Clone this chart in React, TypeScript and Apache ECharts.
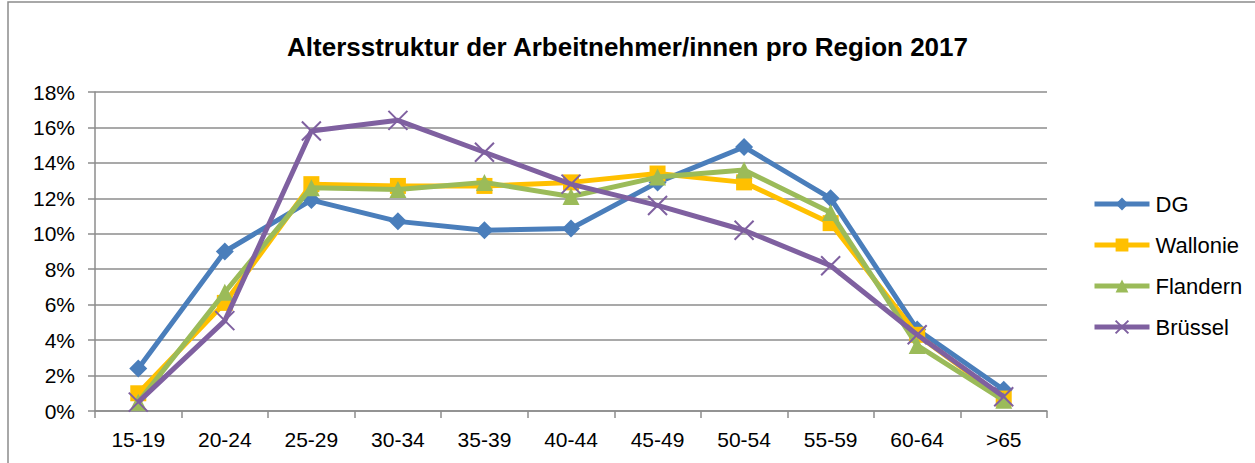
import React, { useEffect, useRef } from "react";
import * as echarts from "echarts";

const categories = ["15-19", "20-24", "25-29", "30-34", "35-39", "40-44", "45-49", "50-54", "55-59", "60-64", ">65"];
const dgValues = [2.4, 9.0, 11.9, 10.7, 10.2, 10.3, 12.9, 14.9, 12.0, 4.6, 1.2];
const wallonieValues = [1.0, 6.1, 12.8, 12.7, 12.7, 12.9, 13.4, 12.9, 10.6, 4.3, 0.7];
const flandernValues = [0.5, 6.7, 12.6, 12.5, 12.9, 12.1, 13.2, 13.6, 11.2, 3.7, 0.6];
const bruesselValues = [0.5, 5.1, 15.8, 16.4, 14.6, 12.8, 11.6, 10.2, 8.2, 4.3, 0.8];
const seriesNames = ["DG", "Wallonie", "Flandern", "Brüssel"];
const yTicks = { min: 0, max: 18, interval: 2 };
const titleText = "Altersstruktur der Arbeitnehmer/innen pro Region 2017";

const FONT = "'Liberation Sans', Arial, sans-serif";
const GRAY = "#8c8c8c";

export default function App() {
  const ref = useRef<HTMLDivElement>(null);
  useEffect(() => {
    if (!ref.current) return;
    const chart = echarts.init(ref.current, null, { renderer: "svg" });
    const colors = ["#4A7EBB", "#FFC000", "#9BBB59", "#7F60A0"];
    const symbols = ["diamond", "rect", "triangle", "path://M0,0L10,10M10,0L0,10"];
    const sizes = [18, 16, 17, 19];
    const data = [dgValues, wallonieValues, flandernValues, bruesselValues];
    chart.setOption({
      animation: false,
      textStyle: { fontFamily: FONT },
      title: {
        text: titleText,
        left: "center",
        top: 29,
        textStyle: { fontFamily: FONT, fontSize: 26, fontWeight: "bold", color: "#000" },
      },
      graphic: [
        {
          type: "rect",
          shape: { x: 8, y: 2, width: 1260, height: 480 },
          style: { fill: "none", stroke: GRAY, lineWidth: 1.5 },
          silent: true,
        },
      ],
      legend: {
        orient: "vertical",
        left: 1087,
        top: 188,
        itemWidth: 55,
        itemHeight: 16,
        itemGap: 19,
        lineStyle: { width: 5 },
        textStyle: { fontFamily: FONT, fontSize: 22, color: "#000", padding: [0, 0, 0, 1] },
        data: seriesNames,
      },
      grid: { left: 95, right: 208, top: 92, bottom: 52, containLabel: false },
      xAxis: {
        type: "category",
        data: categories,
        boundaryGap: true,
        axisLine: { lineStyle: { color: GRAY, width: 1.5 } },
        axisTick: { show: true, length: 7, alignWithLabel: false, lineStyle: { color: GRAY, width: 1.5 } },
        axisLabel: { color: "#000", fontSize: 21, fontFamily: FONT, margin: 18 },
        splitLine: { show: false },
      },
      yAxis: {
        type: "value",
        min: yTicks.min,
        max: yTicks.max,
        interval: yTicks.interval,
        axisLine: { show: true, lineStyle: { color: GRAY, width: 1.5 } },
        axisTick: { show: true, length: 7, lineStyle: { color: GRAY, width: 1.5 } },
        axisLabel: { color: "#000", fontSize: 21, fontFamily: FONT, margin: 20, formatter: (v: number) => `${v}%` },
        splitLine: { show: true, lineStyle: { color: GRAY, width: 1.5 } },
      },
      series: seriesNames.map((name, i) => ({
        name,
        type: "line",
        data: data[i],
        symbol: symbols[i],
        symbolSize: sizes[i],
        showAllSymbol: true,
        lineStyle: { color: colors[i], width: 5 },
        itemStyle: {
          color: i === 3 ? "none" : colors[i],
          borderColor: colors[i],
          borderWidth: i === 3 ? 2 : 0,
        },
        z: 2 + i,
      })),
    });
    return () => chart.dispose();
  }, []);
  return <div ref={ref} style={{ position: "absolute", left: 0, top: 0, width: 1255, height: 463 }} />;
}
